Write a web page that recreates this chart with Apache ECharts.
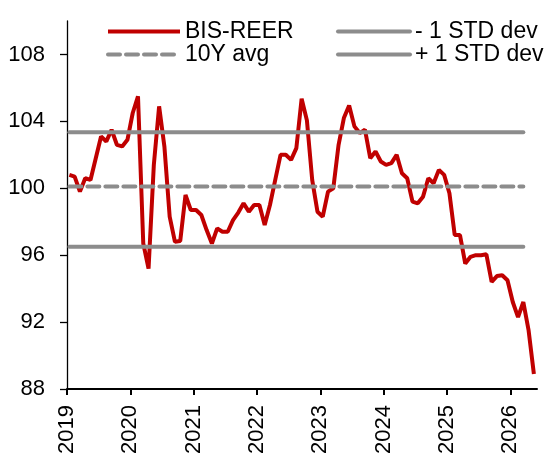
<!DOCTYPE html>
<html>
<head>
<meta charset="utf-8">
<script src="https://cdn.jsdelivr.net/npm/echarts@6/dist/echarts.min.js"></script>
<style>
  html, body { margin: 0; padding: 0; background: #fff; }
  #chart { width: 547px; height: 457px; }
</style>
</head>
<body>
<div id="chart"></div>
<script>
// 月度数据 2019-01 .. 2026-05
const startYear = 2019;
const monthCount = 89;
const months = [];
for (let i = 0; i < monthCount; i++) {
  const y = startYear + Math.floor(i / 12);
  const m = (i % 12) + 1;
  months.push(y + '-' + (m < 10 ? '0' + m : m));
}

// BIS-REER
const reer = [
  100.8, 100.7, 99.8, 100.6, 100.5, 101.8, 103.1, 102.8, 103.5, 102.6, 102.5, 102.9,
  104.5, 105.5, 96.7, 95.2, 101.4, 104.9, 102.5, 98.3, 96.8, 96.85, 99.6, 98.7,
  98.7, 98.4, 97.5, 96.7, 97.6, 97.4, 97.4, 98.1, 98.55, 99.1, 98.6, 99.0,
  99.0, 97.8, 99.0, 100.5, 102.0, 102.0, 101.7, 102.4, 105.35, 104.06, 100.5, 98.6,
  98.3, 99.8, 100.0, 102.6, 104.2, 104.95, 103.7, 103.3, 103.5, 101.8, 102.2, 101.6,
  101.4, 101.5, 102.0, 100.9, 100.6, 99.2, 99.1, 99.5, 100.6, 100.3, 101.1, 100.8,
  99.7, 97.2, 97.2, 95.5, 95.9, 96.0, 96.0, 96.05, 94.4, 94.75, 94.8, 94.5,
  93.2, 92.3, 93.2, 91.5, 88.9
];

const avg10y = 100.1;
const stdPlus = 103.35;
const stdMinus = 96.5;
const bandMonths = ['2019-01', '2026-03'];

const yTicks = [88, 92, 96, 100, 104, 108];
const yearTicks = [2019, 2020, 2021, 2022, 2023, 2024, 2025, 2026];

// 'YYYY-MM' -> 年份小数（月中）
const toYear = (s) => {
  const [y, m] = s.split('-').map(Number);
  return y + (m - 1 + 0.45) / 12;
};

const red = '#C00000';
const grey = '#8C8C8C';
const font = 'Liberation Sans, Arial, sans-serif';

const flatLine = (v) => bandMonths.map(m => [toYear(m), v]);

const legendBase = {
  orient: 'vertical',
  padding: 0,
  itemWidth: 72,
  itemHeight: 14,
  itemStyle: { opacity: 0 },  // 不显示图例上的圆点
  lineStyle: { width: 4 },
  textStyle: { fontSize: 23, color: '#000', fontFamily: font, lineHeight: 22 }
};

let option = () => {
  return {
    backgroundColor: '#fff',
    animation: false,
    grid: { left: 67, right: 10, top: 21, bottom: 68, containLabel: false, outerBoundsMode: 'none' },
    legend: [
      Object.assign({}, legendBase, { data: ['BIS-REER'], left: 106, top: 20 }),
      Object.assign({}, legendBase, { data: ['10Y avg'], left: 106, top: 43 }),
      Object.assign({}, legendBase, { data: ['- 1 STD dev'], left: 336, top: 20 }),
      Object.assign({}, legendBase, { data: ['+ 1 STD dev'], left: 336, top: 43 })
    ],
    xAxis: {
      type: 'value',
      min: 2019,
      max: 2026.42,
      splitLine: { show: false },
      axisLine: { lineStyle: { color: '#000', width: 2 } },
      axisTick: { customValues: yearTicks, length: 6, lineStyle: { color: '#000', width: 2 } },
      axisLabel: {
        customValues: yearTicks,
        rotate: 90,
        margin: 16,
        fontSize: 22,
        color: '#000',
        fontFamily: font,
        formatter: v => String(v)
      }
    },
    yAxis: {
      type: 'value',
      min: 88,
      max: 110,
      splitLine: { show: false },
      axisLine: { show: true, lineStyle: { color: '#000', width: 1.3 } },
      axisTick: { show: true, customValues: yTicks, length: 7, lineStyle: { color: '#000', width: 1.3 } },
      axisLabel: {
        customValues: yTicks,
        margin: 22,
        fontSize: 22,
        color: '#000',
        fontFamily: font,
        formatter: v => String(v)
      }
    },
    series: [
      {
        name: 'BIS-REER',
        type: 'line',
        symbol: 'none',
        z: 2,
        data: months.map((m, i) => [toYear(m), reer[i]]),
        lineStyle: { color: red, width: 4 },
        itemStyle: { color: red }
      },
      {
        name: '10Y avg',
        type: 'line',
        symbol: 'none',
        z: 3,
        data: flatLine(avg10y),
        lineStyle: { color: grey, width: 4, type: [12, 6], cap: 'round' },
        itemStyle: { color: grey }
      },
      {
        name: '- 1 STD dev',
        type: 'line',
        symbol: 'none',
        z: 3,
        data: flatLine(stdMinus),
        lineStyle: { color: grey, width: 4, cap: 'round' },
        itemStyle: { color: grey }
      },
      {
        name: '+ 1 STD dev',
        type: 'line',
        symbol: 'none',
        z: 3,
        data: flatLine(stdPlus),
        lineStyle: { color: grey, width: 4, cap: 'round' },
        itemStyle: { color: grey }
      }
    ]
  };
};

const myChart = echarts.init(document.getElementById('chart'), null, { renderer: 'canvas' });
myChart.setOption(option());
</script>
</body>
</html>
